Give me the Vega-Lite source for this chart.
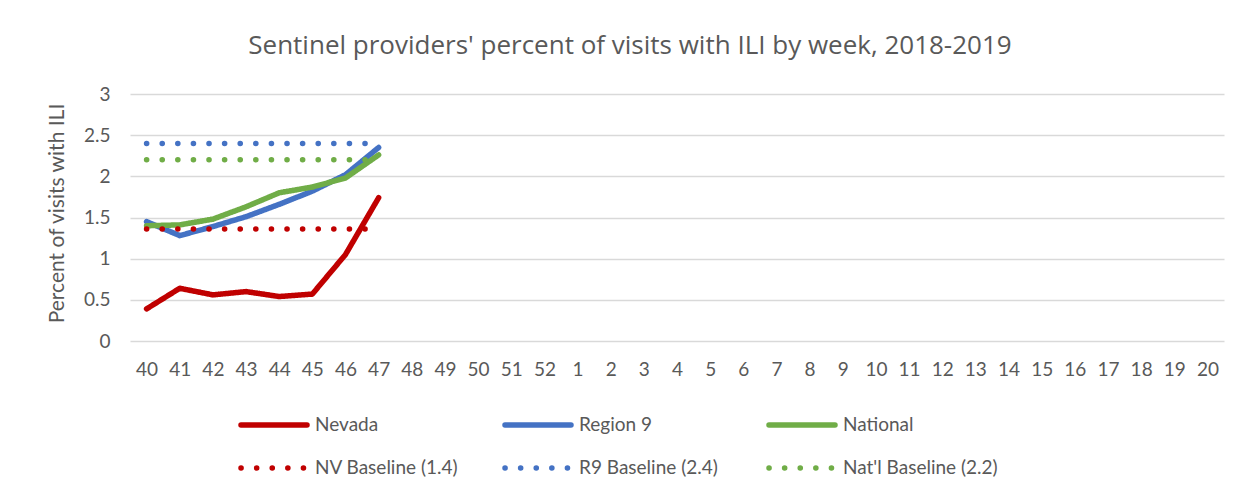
{
  "$schema": "https://vega.github.io/schema/vega-lite/v6.json",
  "autosize": {"type": "none"},
  "width": 1094,
  "height": 247,
  "padding": {"left": 130, "top": 94, "right": 29, "bottom": 163},
  "background": "white",
  "title": {
    "text": "Sentinel providers' percent of visits with ILI by week, 2018-2019",
    "font": "Open Sans",
    "fontSize": 26,
    "fontWeight": "normal",
    "color": "#595959",
    "anchor": "middle",
    "frame": "group",
    "dx": -47,
    "offset": 26
  },
  "data": {
    "values": [
      {"week": "40", "series": "Nevada", "value": 0.39},
      {"week": "41", "series": "Nevada", "value": 0.64},
      {"week": "42", "series": "Nevada", "value": 0.56},
      {"week": "43", "series": "Nevada", "value": 0.6},
      {"week": "44", "series": "Nevada", "value": 0.54},
      {"week": "45", "series": "Nevada", "value": 0.57},
      {"week": "46", "series": "Nevada", "value": 1.05},
      {"week": "47", "series": "Nevada", "value": 1.74},
      {"week": "40", "series": "Region 9", "value": 1.45},
      {"week": "41", "series": "Region 9", "value": 1.28},
      {"week": "42", "series": "Region 9", "value": 1.39},
      {"week": "43", "series": "Region 9", "value": 1.51},
      {"week": "44", "series": "Region 9", "value": 1.66},
      {"week": "45", "series": "Region 9", "value": 1.82},
      {"week": "46", "series": "Region 9", "value": 2.02},
      {"week": "47", "series": "Region 9", "value": 2.35},
      {"week": "40", "series": "National", "value": 1.4},
      {"week": "41", "series": "National", "value": 1.41},
      {"week": "42", "series": "National", "value": 1.48},
      {"week": "43", "series": "National", "value": 1.63},
      {"week": "44", "series": "National", "value": 1.8},
      {"week": "45", "series": "National", "value": 1.87},
      {"week": "46", "series": "National", "value": 1.98},
      {"week": "47", "series": "National", "value": 2.26},
      {"week": "40", "series": "NV Baseline (1.4)", "value": 1.36},
      {"week": "41", "series": "NV Baseline (1.4)", "value": 1.36},
      {"week": "42", "series": "NV Baseline (1.4)", "value": 1.36},
      {"week": "43", "series": "NV Baseline (1.4)", "value": 1.36},
      {"week": "44", "series": "NV Baseline (1.4)", "value": 1.36},
      {"week": "45", "series": "NV Baseline (1.4)", "value": 1.36},
      {"week": "46", "series": "NV Baseline (1.4)", "value": 1.36},
      {"week": "47", "series": "NV Baseline (1.4)", "value": 1.36},
      {"week": "40", "series": "R9 Baseline (2.4)", "value": 2.4},
      {"week": "41", "series": "R9 Baseline (2.4)", "value": 2.4},
      {"week": "42", "series": "R9 Baseline (2.4)", "value": 2.4},
      {"week": "43", "series": "R9 Baseline (2.4)", "value": 2.4},
      {"week": "44", "series": "R9 Baseline (2.4)", "value": 2.4},
      {"week": "45", "series": "R9 Baseline (2.4)", "value": 2.4},
      {"week": "46", "series": "R9 Baseline (2.4)", "value": 2.4},
      {"week": "47", "series": "R9 Baseline (2.4)", "value": 2.4},
      {"week": "40", "series": "Nat'l Baseline (2.2)", "value": 2.2},
      {"week": "41", "series": "Nat'l Baseline (2.2)", "value": 2.2},
      {"week": "42", "series": "Nat'l Baseline (2.2)", "value": 2.2},
      {"week": "43", "series": "Nat'l Baseline (2.2)", "value": 2.2},
      {"week": "44", "series": "Nat'l Baseline (2.2)", "value": 2.2},
      {"week": "45", "series": "Nat'l Baseline (2.2)", "value": 2.2},
      {"week": "46", "series": "Nat'l Baseline (2.2)", "value": 2.2},
      {"week": "47", "series": "Nat'l Baseline (2.2)", "value": 2.2}
    ]
  },
  "mark": {"type": "line", "strokeCap": "round", "strokeJoin": "round"},
  "encoding": {
    "x": {
      "field": "week",
      "type": "ordinal",
      "scale": {
        "type": "point",
        "padding": 0.5,
        "domain": ["40","41","42","43","44","45","46","47","48","49","50","51","52","1","2","3","4","5","6","7","8","9","10","11","12","13","14","15","16","17","18","19","20"]
      },
      "axis": {
        "title": null,
        "labelAngle": 0,
        "labelFont": "Lato",
        "labelFontSize": 19,
        "labelColor": "#595959",
        "labelPadding": 19,
        "ticks": false,
        "domain": false,
        "grid": false
      }
    },
    "y": {
      "field": "value",
      "type": "quantitative",
      "scale": {"domain": [0, 3], "nice": false},
      "axis": {
        "title": "Percent of visits with ILI",
        "titleFont": "Lato",
        "titleFontSize": 21,
        "titleFontWeight": "normal",
        "titleColor": "#595959",
        "titleX": -63,
        "titleY": 119,
        "values": [0, 0.5, 1, 1.5, 2, 2.5, 3],
        "format": "~g",
        "labelFont": "Lato",
        "labelFontSize": 19,
        "labelColor": "#595959",
        "labelPadding": 20,
        "ticks": false,
        "domain": false,
        "grid": true,
        "gridColor": "#d9d9d9",
        "gridWidth": 1.3
      }
    },
    "color": {
      "field": "series",
      "type": "nominal",
      "scale": {
        "domain": ["Nevada", "Region 9", "National", "NV Baseline (1.4)", "R9 Baseline (2.4)", "Nat'l Baseline (2.2)"],
        "range": ["#C00000", "#4472C4", "#70AD47", "#C00000", "#4472C4", "#70AD47"]
      },
      "legend": {
        "title": null,
        "orient": "none",
        "legendX": 108,
        "legendY": 317,
        "direction": "horizontal",
        "columns": 3,
        "gridAlign": "all",
        "columnPadding": 24,
        "rowPadding": 18,
        "symbolType": "M-1,0H5",
        "symbolSize": 484,
        "labelFont": "Lato",
        "labelFontSize": 19,
        "labelColor": "#595959",
        "labelOffset": 49,
        "labelLimit": 300,
        "encode": {"symbols": {"update": {"strokeCap": {"value": "round"}}}}
      }
    },
    "strokeDash": {
      "field": "series",
      "type": "nominal",
      "scale": {
        "domain": ["Nevada", "Region 9", "National", "NV Baseline (1.4)", "R9 Baseline (2.4)", "Nat'l Baseline (2.2)"],
        "range": [[1, 0], [1, 0], [1, 0], [0.1, 15.5], [0.1, 15.5], [0.1, 15.5]]
      },
      "legend": null
    },
    "strokeWidth": {
      "field": "series",
      "type": "nominal",
      "scale": {
        "domain": ["Nevada", "Region 9", "National", "NV Baseline (1.4)", "R9 Baseline (2.4)", "Nat'l Baseline (2.2)"],
        "range": [5.5, 5.5, 5.5, 7, 7, 7]
      },
      "legend": null
    }
  },
  "config": {"view": {"stroke": null}}
}
